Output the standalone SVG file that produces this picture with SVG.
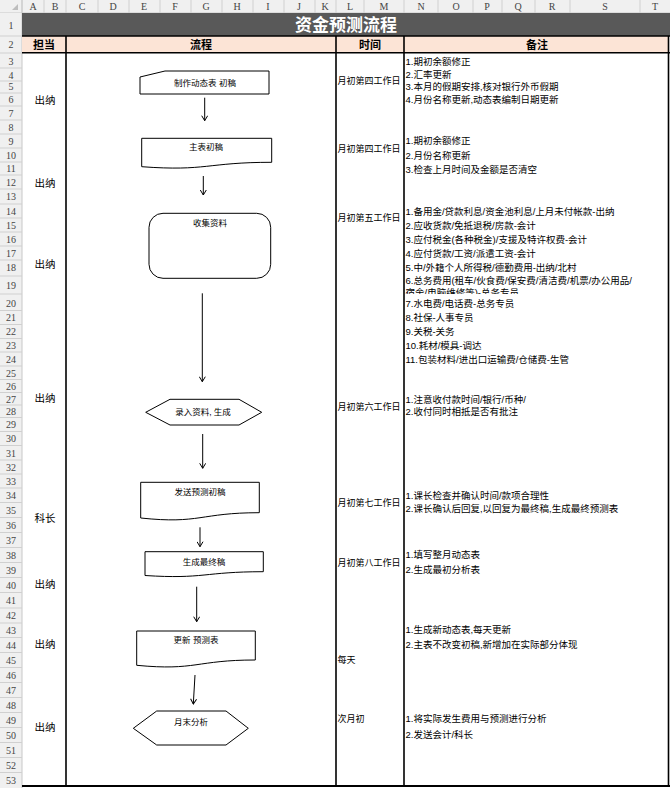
<svg xmlns="http://www.w3.org/2000/svg" width="670" height="788" viewBox="0 0 670 788">
<style>
  .t { font-family: "Liberation Sans","Noto Sans CJK SC",sans-serif; fill:#000; }
  .hdr { font-family: "Liberation Serif","Noto Sans CJK SC",serif; font-size:10px; fill:#444; text-anchor:middle; }
  .note { font-size:9.5px; }
  .time { font-size:9px; }
  .who { font-size:10.5px; text-anchor:middle; }
  .th { font-size:11px; font-weight:bold; text-anchor:middle; }
  .nt { font-size:8.5px; text-anchor:middle; }
  .shape { fill:#fff; stroke:#000; stroke-width:1; }
  .conn { stroke:#000; stroke-width:1; fill:none; marker-end:url(#arr); }
  .grid { stroke:#D0D0D0; stroke-width:1; fill:none; }
  .bold { stroke:#000; stroke-width:1.6; fill:none; }
</style>
<defs>
  <marker id="arr" markerUnits="userSpaceOnUse" viewBox="0 0 6 7" refX="5.5" refY="3.5" markerWidth="6" markerHeight="7" orient="auto">
    <path d="M0.5,0.5 L5.5,3.5 L0.5,6.5" fill="none" stroke="#000" stroke-width="1"/>
  </marker>
  <clipPath id="r19"><rect x="404" y="276" width="266" height="18"/></clipPath>
</defs>

<!-- sheet background -->
<rect x="0" y="0" width="670" height="788" fill="#fff"/>
<!-- column header strip -->
<g id="colheader">
  <rect x="0" y="0" width="670" height="13" fill="#F0F0F0"/>
  <line x1="0" y1="13" x2="670" y2="13" stroke="#C8C8C8"/>
  <path class="grid" d="M22,0V13 M44,0V13 M66,0V13 M98,0V13 M129,0V13 M160,0V13 M191,0V13 M222,0V13 M253,0V13 M284,0V13 M315,0V13 M336,0V13 M364,0V13 M404,0V13 M438,0V13 M473,0V13 M502,0V13 M535,0V13 M570,0V13 M640,0V13"/>
  <polygon points="18,4 18,10 12,10" fill="#BDBDBD"/>
  <text class="hdr" y="10"><tspan x="33">A</tspan><tspan x="55">B</tspan><tspan x="82">C</tspan><tspan x="113">D</tspan><tspan x="144">E</tspan><tspan x="175">F</tspan><tspan x="206">G</tspan><tspan x="237">H</tspan><tspan x="268">I</tspan><tspan x="299">J</tspan><tspan x="325">K</tspan><tspan x="350">L</tspan><tspan x="384">M</tspan><tspan x="421">N</tspan><tspan x="456">O</tspan><tspan x="487">P</tspan><tspan x="518">Q</tspan><tspan x="552">R</tspan><tspan x="605">S</tspan><tspan x="655">T</tspan></text>
</g>
<!-- row header strip -->
<g id="rowheader">
  <rect x="0" y="13" width="22" height="775" fill="#F0F0F0"/>
  <line x1="22" y1="0" x2="22" y2="788" stroke="#C8C8C8"/>
  <path class="grid" d="M0,36H22 M0,53H22 M0,68H22 M0,81H22 M0,93H22 M0,106H22 M0,120H22 M0,134H22 M0,148H22 M0,162H22 M0,175H22 M0,189H22 M0,204H22 M0,218H22 M0,232H22 M0,246H22 M0,260H22 M0,276H22 M0,294H22 M0,310.5H22 M0,324.5H22 M0,338.5H22 M0,352H22 M0,366H22 M0,379.5H22 M0,392.5H22 M0,405H22 M0,417.5H22 M0,431.5H22 M0,445.5H22 M0,460H22 M0,474H22 M0,488H22 M0,502.5H22 M0,517.5H22 M0,532.5H22 M0,547.5H22 M0,562.5H22 M0,577.5H22 M0,592.5H22 M0,608H22 M0,623H22 M0,637.5H22 M0,652.5H22 M0,667.5H22 M0,682.5H22 M0,697.5H22 M0,712.5H22 M0,727.5H22 M0,742.5H22 M0,757.5H22 M0,772.5H22"/>
  <g class="hdr" font-size="10">
    <text x="11" y="28.5">1</text><text x="11" y="48">2</text><text x="11" y="64.5">3</text><text x="11" y="78.5">4</text><text x="11" y="90">5</text><text x="11" y="103">6</text><text x="11" y="116.5">7</text><text x="11" y="130.5">8</text><text x="11" y="144.5">9</text><text x="11" y="158.5">10</text><text x="11" y="172">11</text><text x="11" y="185.5">12</text><text x="11" y="200">13</text><text x="11" y="214.5">14</text><text x="11" y="228.5">15</text><text x="11" y="242.5">16</text><text x="11" y="256.5">17</text><text x="11" y="270.5">18</text><text x="11" y="288.5">19</text><text x="11" y="307">20</text><text x="11" y="321">21</text><text x="11" y="335">22</text><text x="11" y="349">23</text><text x="11" y="362.5">24</text><text x="11" y="376.5">25</text><text x="11" y="389.5">26</text><text x="11" y="402.5">27</text><text x="11" y="414.5">28</text><text x="11" y="428">29</text><text x="11" y="442">30</text><text x="11" y="456.5">31</text><text x="11" y="470.5">32</text><text x="11" y="484.5">33</text><text x="11" y="498.5">34</text><text x="11" y="513.5">35</text><text x="11" y="528.5">36</text><text x="11" y="543.5">37</text><text x="11" y="558.5">38</text><text x="11" y="573.5">39</text><text x="11" y="588.5">40</text><text x="11" y="603.5">41</text><text x="11" y="619">42</text><text x="11" y="634">43</text><text x="11" y="648.5">44</text><text x="11" y="663.5">45</text><text x="11" y="678.5">46</text><text x="11" y="693.5">47</text><text x="11" y="708.5">48</text><text x="11" y="723.5">49</text><text x="11" y="738.5">50</text><text x="11" y="753.5">51</text><text x="11" y="768.5">52</text><text x="11" y="783.5">53</text>
  </g>
</g>

<!-- title row -->
<g id="title">
  <rect x="22" y="13" width="648" height="23" fill="#595959"/>
  <text class="t" x="346" y="31" font-size="17" font-weight="bold" text-anchor="middle" style="fill:#fff">资金预测流程</text>
</g>
<!-- header row -->
<g id="header">
  <rect x="22" y="36" width="647" height="17" fill="#FCE4D6"/>
  <text class="t th" x="44" y="49">担当</text>
  <text class="t th" x="201" y="49">流程</text>
  <text class="t th" x="370" y="49">时间</text>
  <text class="t th" x="537" y="49">备注</text>
</g>
<!-- table borders -->
<g id="borders">
  <line class="bold" x1="22" y1="36" x2="670" y2="36"/>
  <line class="bold" x1="22" y1="52.8" x2="670" y2="52.8"/>
  <line class="bold" x1="66" y1="36" x2="66" y2="787"/>
  <line class="bold" x1="336" y1="36" x2="336" y2="787"/>
  <line class="bold" x1="404" y1="36" x2="404" y2="787"/>
  <line class="bold" x1="668.5" y1="36" x2="668.5" y2="787"/>
  <line x1="22" y1="786" x2="670" y2="786" stroke="#000" stroke-width="2.2"/>
</g>

<!-- 担当 column -->
<g id="owners">
  <text class="t who" x="45" y="104">出纳</text>
  <text class="t who" x="45" y="187">出纳</text>
  <text class="t who" x="45" y="268">出纳</text>
  <text class="t who" x="45" y="402">出纳</text>
  <text class="t who" x="45" y="522">科长</text>
  <text class="t who" x="45" y="588">出纳</text>
  <text class="t who" x="45" y="648">出纳</text>
  <text class="t who" x="45" y="731">出纳</text>
</g>

<!-- 时间 column -->
<g id="times">
  <text class="t time" x="337.5" y="83.5">月初第四工作日</text>
  <text class="t time" x="337.5" y="151.5">月初第四工作日</text>
  <text class="t time" x="337.5" y="220.5">月初第五工作日</text>
  <text class="t time" x="337.5" y="409.5">月初第六工作日</text>
  <text class="t time" x="337.5" y="505.5">月初第七工作日</text>
  <text class="t time" x="337.5" y="565.5">月初第八工作日</text>
  <text class="t time" x="337.5" y="662.5">每天</text>
  <text class="t time" x="337.5" y="722">次月初</text>
</g>

<!-- 备注 column -->
<g id="notes">
  <text class="t note" x="405.5" y="65">1.期初余额修正</text>
  <text class="t note" x="405.5" y="78">2.汇率更新</text>
  <text class="t note" x="405.5" y="90">3.本月的假期安排,核对银行外币假期</text>
  <text class="t note" x="405.5" y="102.5">4.月份名称更新,动态表编制日期更新</text>

  <text class="t note" x="405.5" y="143.5">1.期初余额修正</text>
  <text class="t note" x="405.5" y="158.5">2.月份名称更新</text>
  <text class="t note" x="405.5" y="172.5">3.检查上月时间及金额是否清空</text>

  <text class="t note" x="405.5" y="214.5">1.备用金/贷款利息/资金池利息/上月未付帐款-出纳</text>
  <text class="t note" x="405.5" y="228.5">2.应收货款/免抵退税/房款-会计</text>
  <text class="t note" x="405.5" y="242.5">3.应付税金(各种税金)/支援及特许权费-会计</text>
  <text class="t note" x="405.5" y="256.5">4.应付货款/工资/派遣工资-会计</text>
  <text class="t note" x="405.5" y="270.5">5.中/外籍个人所得税/德勤费用-出纳/北村</text>
  <g clip-path="url(#r19)">
    <text class="t note" x="405.5" y="284">6.总务费用(租车/伙食费/保安费/清洁费/机票/办公用品/</text>
    <text class="t note" x="405.5" y="296">宿舍/电脑维修等)-总务专员</text>
  </g>
  <text class="t note" x="405.5" y="306.5">7.水电费/电话费-总务专员</text>
  <text class="t note" x="405.5" y="320.5">8.社保-人事专员</text>
  <text class="t note" x="405.5" y="334.5">9.关税-关务</text>
  <text class="t note" x="405.5" y="348.5">10.耗材/模具-调达</text>
  <text class="t note" x="405.5" y="362.5">11.包装材料/进出口运输费/仓储费-生管</text>

  <text class="t note" x="405.5" y="402.5">1.注意收付款时间/银行/币种/</text>
  <text class="t note" x="405.5" y="415">2.收付同时相抵是否有批注</text>

  <text class="t note" x="405.5" y="498.5">1.课长检查并确认时间/款项合理性</text>
  <text class="t note" x="405.5" y="511.5">2.课长确认后回复,以回复为最终稿,生成最终预测表</text>

  <text class="t note" x="405.5" y="557.5">1.填写整月动态表</text>
  <text class="t note" x="405.5" y="572.5">2.生成最初分析表</text>

  <text class="t note" x="405.5" y="632.5">1.生成新动态表,每天更新</text>
  <text class="t note" x="405.5" y="647.5">2.主表不改变初稿,新增加在实际部分体现</text>

  <text class="t note" x="405.5" y="721.5">1.将实际发生费用与预测进行分析</text>
  <text class="t note" x="405.5" y="737.5">2.发送会计/科长</text>
</g>

<!-- flowchart nodes -->
<g id="n1">
  <polygon class="shape" points="140,77 165,71 269,71 269,94 140,94"/>
  <text class="t nt" x="205" y="86">制作动态表 初稿</text>
</g>
<g id="n2">
  <path class="shape" d="M141.7,138.3 H271.7 V162.3 C206.7,162.3 206.7,171.5 141.7,166.7 Z"/>
  <text class="t nt" x="206" y="149.5">主表初稿</text>
</g>
<g id="n3">
  <rect class="shape" x="149" y="213.3" width="121.7" height="65" rx="14" ry="14"/>
  <text class="t nt" x="210" y="226">收集资料</text>
</g>
<g id="n4">
  <polygon class="shape" points="145.7,412.3 170,399.3 239,399.3 261.7,412.3 239,425 170,425"/>
  <text class="t nt" x="203" y="415">录入资料, 生成</text>
</g>
<g id="n5">
  <path class="shape" d="M140.7,482.3 H259.3 V512.7 C200,512.7 200,524.3 140.7,518 Z"/>
  <text class="t nt" x="200" y="494.5">发送预测初稿</text>
</g>
<g id="n6">
  <path class="shape" d="M145,551.7 H263.3 V571.7 C204,571.7 204,579.3 145,575.5 Z"/>
  <text class="t nt" x="204" y="565">生成最终稿</text>
</g>
<g id="n7">
  <path class="shape" d="M136.7,631 H255.3 V660 C196,660 196,671 136.7,665.3 Z"/>
  <text class="t nt" x="196" y="643">更新 预测表</text>
</g>
<g id="n8">
  <polygon class="shape" points="133.3,728.3 156.7,711 226,711 248.3,728.3 226,745 156.7,745"/>
  <text class="t nt" x="191" y="725">月末分析</text>
</g>

<!-- connectors -->
<g id="connectors">
  <line class="conn" x1="204.7" y1="97.7" x2="204.7" y2="120.7"/>
  <line class="conn" x1="203.3" y1="176" x2="203.3" y2="195"/>
  <line class="conn" x1="202.3" y1="293.3" x2="202.3" y2="381.7"/>
  <line class="conn" x1="202.7" y1="434" x2="202.7" y2="468.3"/>
  <line class="conn" x1="200" y1="527.3" x2="200" y2="546.7"/>
  <line class="conn" x1="196.7" y1="586.7" x2="196.7" y2="621.7"/>
  <line class="conn" x1="195" y1="675" x2="193.3" y2="704"/>
</g>
</svg>
